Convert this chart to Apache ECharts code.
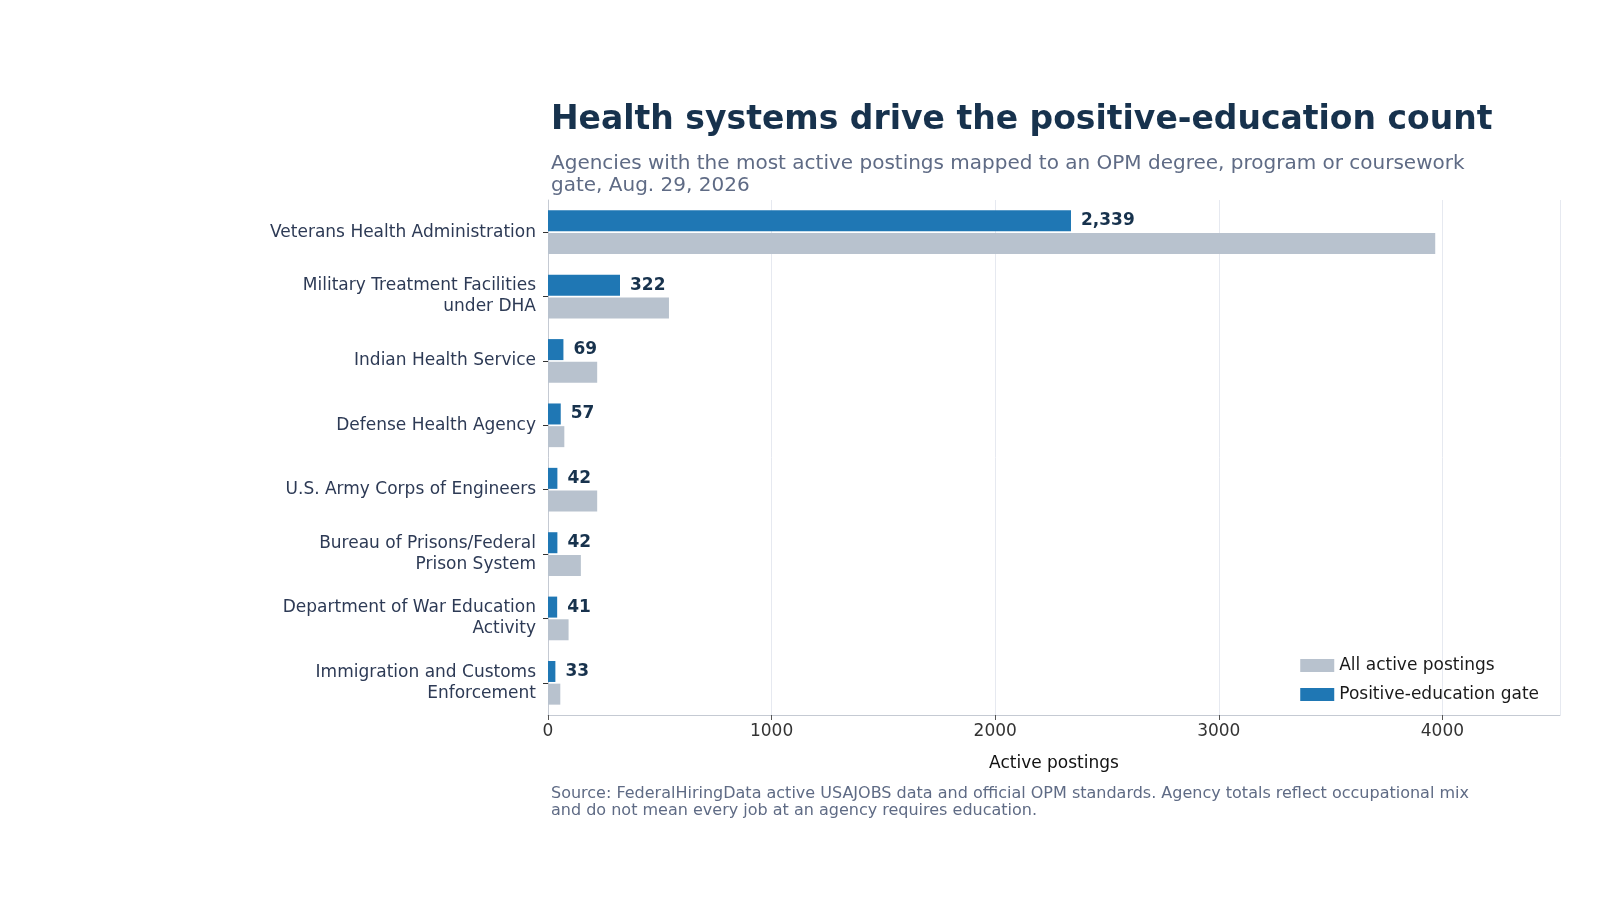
<!DOCTYPE html>
<html><head><meta charset="utf-8">
<script src="https://cdn.jsdelivr.net/npm/echarts@6/dist/echarts.min.js"></script>
<style>html,body{margin:0;background:#fff}#c{width:1600px;height:900px}</style>
</head><body><div id="c"></div>
<script>
const categories = ["Veterans Health Administration","Military Treatment Facilities\nunder DHA","Indian Health Service","Defense Health Agency","U.S. Army Corps of Engineers","Bureau of Prisons/Federal\nPrison System","Department of War Education\nActivity","Immigration and Customs\nEnforcement"];
const positiveGate = [2339,322,69,57,42,42,41,33];
const allPostings = [3968,541,220,73,220,147,92,55];
const xTicks = [0,1000,2000,3000,4000];

const chart = echarts.init(document.getElementById('c'));
chart.setOption({
  backgroundColor:'#fff',
  textStyle:{fontFamily:'DejaVu Sans'},
  title:[
    {text:'Health systems drive the positive-education count',left:546,top:99,textStyle:{fontSize:33,fontWeight:'bold',color:'#17324d',fontFamily:'DejaVu Sans'}},
    {text:'Agencies with the most active postings mapped to an OPM degree, program or coursework\ngate, Aug. 29, 2026',left:546,top:148,textStyle:{fontSize:20,fontWeight:'normal',color:'#5f6b85',lineHeight:22,fontFamily:'DejaVu Sans'}},
    {text:'Source: FederalHiringData active USAJOBS data and official OPM standards. Agency totals reflect occupational mix\nand do not mean every job at an agency requires education.',left:546,top:780,textStyle:{fontSize:16,fontWeight:'normal',color:'#5f6b85',lineHeight:17,fontFamily:'DejaVu Sans'}}
  ],
  legend:{data:['All active postings','Positive-education gate'],icon:'rect',orient:'vertical',right:56,top:652,itemWidth:34,itemHeight:13,itemGap:12,textStyle:{fontSize:17,color:'#1a1a1a'}},
  grid:{left:548,right:40,top:200,bottom:185},
  xAxis:{type:'value',min:0,max:4526,interval:1000,name:'Active postings',nameLocation:'middle',nameGap:40,nameTextStyle:{fontSize:17,color:'#111'},
    axisLine:{show:true,lineStyle:{color:'#c5cad3'}},axisTick:{show:true,length:5,lineStyle:{color:'#555'}},
    axisLabel:{fontSize:17,color:'#333',showMaxLabel:false,formatter:v=>xTicks.includes(v)?String(v):''},
    splitLine:{lineStyle:{color:'#e6e9f0'}}},
  yAxis:{type:'category',data:categories,inverse:true,
    axisLine:{show:true,lineStyle:{color:'#c5cad3'}},axisTick:{show:true,length:5,lineStyle:{color:'#333'},alignWithLabel:true},
    axisLabel:{fontSize:17,color:'#2d3a55',lineHeight:21,margin:12}},
  series:[
    {name:'Positive-education gate',type:'bar',data:positiveGate,barWidth:21,barGap:'8%',itemStyle:{color:'#1f77b4'},
     label:{show:true,position:'right',distance:10,fontSize:17,fontWeight:'bold',color:'#17324d',formatter:p=>p.value.toLocaleString('en-US')},z:3},
    {name:'All active postings',type:'bar',data:allPostings,barWidth:21,itemStyle:{color:'#b8c2ce'},z:2}
  ]
});
</script></body></html>
